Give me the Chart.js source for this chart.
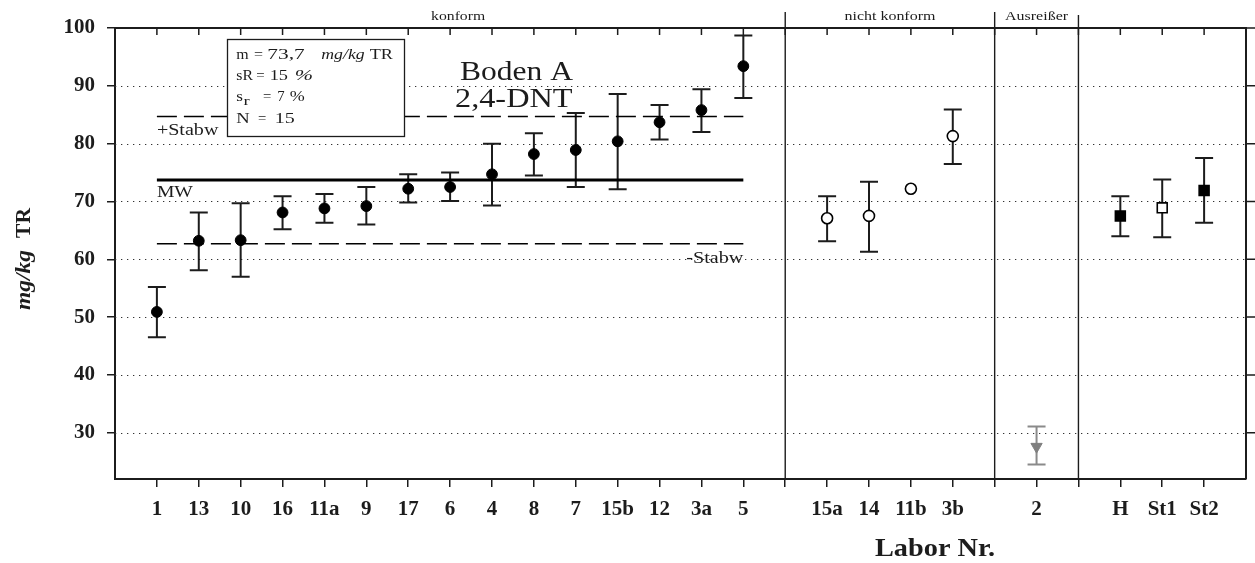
<!DOCTYPE html>
<html>
<head>
<meta charset="utf-8">
<script src="https://cdn.jsdelivr.net/npm/chart.js@4/dist/chart.umd.min.js"></script>
<style>
  html, body { margin: 0; padding: 0; background: #fff; }
  #wrap { width: 1255px; height: 563px; }
</style>
</head>
<body>
<div id="wrap"><canvas id="c" width="1255" height="563"></canvas></div>
<script>
// Konforme Labore: Mittelwert mit Minimum/Maximum der Einzelwerte
const konformLabs = ['1', '13', '10', '16', '11a', '9', '17', '6', '4', '8', '7', '15b', '12', '3a', '5'];
const konformWerte = [50.9, 63.2, 63.3, 68.1, 68.8, 69.2, 72.2, 72.5, 74.7, 78.2, 78.9, 80.4, 83.7, 85.8, 93.4];
const konformMin = [46.5, 58.1, 57.0, 65.2, 66.3, 66.0, 69.8, 70.1, 69.3, 74.5, 72.5, 72.1, 80.7, 82.0, 87.9];
const konformMax = [55.2, 68.1, 69.7, 70.9, 71.3, 72.5, 74.7, 75.0, 80.0, 81.8, 85.3, 88.6, 86.7, 89.4, 98.7];

// Nicht konforme Labore
const nichtLabs = ['15a', '14', '11b', '3b'];
const nichtWerte = [67.1, 67.5, 72.2, 81.3];
const nichtMin = [63.1, 61.3, null, 76.5];
const nichtMax = [70.9, 73.4, null, 85.9];

// Ausreißer
const ausLabs = ['2'];
const ausWerte = [27.6];
const ausMin = [24.5];
const ausMax = [31.1];

// Referenzwerte (Hersteller, Standards)
const refLabs = ['H', 'St1', 'St2'];
const refWerte = [67.5, 68.9, 71.9];
const refMin = [64.0, 63.8, 66.3];
const refMax = [70.9, 73.8, 77.5];

// Kenngrößen der konformen Labore
const mittelwert = 73.7;
const stabw = 11.0;
const kennText = { m: '73,7', sR: '15', sr: '7', N: '15' };

const yTicks = [30, 40, 50, 60, 70, 80, 90, 100];

const SERIF = '"Liberation Serif", "Times New Roman", serif';
const INK = '#1c1c1c';

// Gruppen nebeneinander anordnen, jeweils mit einer Trennposition dazwischen
const gruppen = [
  { name: 'konform', labs: konformLabs, werte: konformWerte, lo: konformMin, hi: konformMax },
  { name: 'nicht konform', labs: nichtLabs, werte: nichtWerte, lo: nichtMin, hi: nichtMax },
  { name: 'Ausreißer', labs: ausLabs, werte: ausWerte, lo: ausMin, hi: ausMax },
  { name: '', labs: refLabs, werte: refWerte, lo: refMin, hi: refMax }
];
const tickLabel = {};
const trenner = [];
let pos = 1;
gruppen.forEach((g, i) => {
  g.start = pos;
  g.xs = g.labs.map((l, k) => { tickLabel[pos + k] = l; return pos + k; });
  pos += g.labs.length;
  g.end = pos - 1;
  if (i < gruppen.length - 1) { trenner.push(pos); pos += 1; }
});
const xMax = pos;

function punkte(g) {
  return g.xs.map((x, k) => ({ x: x, y: g.werte[k] }));
}
const kon = gruppen[0];

const datasets = [
  {
    label: 'konform', data: punkte(gruppen[0]), errLo: gruppen[0].lo, errHi: gruppen[0].hi, errColor: INK,
    pointStyle: 'circle', pointRadius: 5.4, backgroundColor: '#000', borderColor: '#000', borderWidth: 1, order: 1
  },
  {
    label: 'nicht konform', data: punkte(gruppen[1]), errLo: gruppen[1].lo, errHi: gruppen[1].hi, errColor: INK,
    pointStyle: 'circle', pointRadius: 5.5, backgroundColor: '#fff', borderColor: '#000', borderWidth: 1.6, order: 1
  },
  {
    label: 'Ausreißer', data: punkte(gruppen[2]), errLo: gruppen[2].lo, errHi: gruppen[2].hi, errColor: '#8a8a8a',
    pointStyle: 'triangle', rotation: 180, pointRadius: 6.5, backgroundColor: '#7f7f7f', borderColor: '#7f7f7f', borderWidth: 1, order: 1
  },
  {
    label: 'Referenz', data: punkte(gruppen[3]), errLo: gruppen[3].lo, errHi: gruppen[3].hi, errColor: INK,
    pointStyle: 'rect', pointRadius: 7, backgroundColor: ['#000', '#fff', '#000'], borderColor: '#000', borderWidth: 1.6, order: 1
  },
  {
    type: 'line', label: 'MW', data: [{ x: kon.start, y: mittelwert }, { x: kon.end, y: mittelwert }],
    borderColor: '#000', borderWidth: 3, pointRadius: 0, fill: false, order: 2
  },
  {
    type: 'line', label: '+Stabw', data: [{ x: kon.start, y: mittelwert + stabw }, { x: kon.end, y: mittelwert + stabw }],
    borderColor: '#000', borderWidth: 1.5, borderDash: [20, 7], pointRadius: 0, fill: false, order: 2
  },
  {
    type: 'line', label: '-Stabw', data: [{ x: kon.start, y: mittelwert - stabw }, { x: kon.end, y: mittelwert - stabw }],
    borderColor: '#000', borderWidth: 1.5, borderDash: [20, 7], pointRadius: 0, fill: false, order: 2
  }
];

// Text zwischen zwei x-Grenzen setzen, dafür waagerecht gedehnt
function breitText(ctx, text, left, right, y, font) {
  ctx.font = font;
  ctx.textAlign = 'left';
  if (right == null) { ctx.fillText(text, left, y); return; }
  const w = ctx.measureText(text).width;
  ctx.save();
  ctx.translate(left, y);
  ctx.scale((right - left) / w, 1);
  ctx.fillText(text, 0, 0);
  ctx.restore();
}

// Gitter, Trennlinien und Fehlerbalken unter den Punkten
const unterlage = {
  id: 'unterlage',
  beforeDatasetsDraw(chart) {
    const { ctx, chartArea: a, scales: { x, y } } = chart;
    ctx.save();
    // gepunktete Gitterlinien
    ctx.strokeStyle = '#333';
    ctx.lineWidth = 1;
    ctx.setLineDash([1.3, 4.7]);
    yTicks.forEach(v => {
      if (v >= 100) return;
      const py = Math.round(y.getPixelForValue(v)) + 0.5;
      ctx.beginPath(); ctx.moveTo(a.left, py); ctx.lineTo(a.right, py); ctx.stroke();
    });
    ctx.setLineDash([]);
    // senkrechte Trennlinien zwischen den Gruppen
    ctx.strokeStyle = INK;
    ctx.lineWidth = 1.4;
    trenner.forEach((t, i) => {
      const px = x.getPixelForValue(t);
      ctx.beginPath(); ctx.moveTo(px, i === trenner.length - 1 ? 15 : 12); ctx.lineTo(px, a.bottom); ctx.stroke();
    });
    // Fehlerbalken (Min/Max)
    chart.data.datasets.forEach(ds => {
      if (!ds.errLo) return;
      ctx.strokeStyle = ds.errColor;
      ctx.lineWidth = 2;
      ds.data.forEach((p, k) => {
        const lo = ds.errLo[k], hi = ds.errHi[k];
        if (lo == null || hi == null) return;
        const px = x.getPixelForValue(p.x);
        const y1 = y.getPixelForValue(lo), y2 = y.getPixelForValue(hi);
        ctx.beginPath();
        ctx.moveTo(px, y1); ctx.lineTo(px, y2);
        ctx.moveTo(px - 9, y1); ctx.lineTo(px + 9, y1);
        ctx.moveTo(px - 9, y2); ctx.lineTo(px + 9, y2);
        ctx.stroke();
      });
    });
    ctx.restore();
  }
};

// Rahmen oben/rechts, Beschriftungen, Kennwertkasten, Achsentitel
const beschriftung = {
  id: 'beschriftung',
  afterDraw(chart) {
    const { ctx, chartArea: a, scales: { x, y } } = chart;
    ctx.save();
    ctx.strokeStyle = INK;
    ctx.lineWidth = 2;
    ctx.beginPath();
    ctx.moveTo(a.left, a.top); ctx.lineTo(a.right, a.top); ctx.lineTo(a.right, a.bottom);
    ctx.stroke();
    // Markierungen oben (nach innen) und rechts (nach außen)
    ctx.lineWidth = 1.5;
    ctx.beginPath();
    for (let i = 1; i < xMax; i++) {
      const px = x.getPixelForValue(i);
      ctx.moveTo(px, a.top); ctx.lineTo(px, a.top + 7);
    }
    yTicks.forEach(v => {
      const py = y.getPixelForValue(v);
      ctx.moveTo(a.right, py); ctx.lineTo(a.right + 9, py);
    });
    ctx.stroke();

    ctx.fillStyle = INK;
    ctx.textBaseline = 'alphabetic';
    // Gruppennamen über der Achse
    const gruppenBreite = { 'konform': 54, 'nicht konform': 91, 'Ausreißer': 63 };
    gruppen.forEach(g => {
      if (!g.name) return;
      const cx = x.getPixelForValue((g.start + g.end) / 2) + (g === kon ? 8 : 0);
      const w = gruppenBreite[g.name];
      breitText(ctx, g.name, cx - w / 2, cx + w / 2, 20, '13px ' + SERIF);
    });

    // Beschriftung der Mittelwert- und Streulinien
    const xl = x.getPixelForValue(kon.start), xr = x.getPixelForValue(kon.end);
    breitText(ctx, '+Stabw', xl, xl + 61.5, y.getPixelForValue(mittelwert + stabw) + 18.5, '16px ' + SERIF);
    breitText(ctx, 'MW', xl, xl + 36, y.getPixelForValue(mittelwert) + 16.5, '16px ' + SERIF);
    breitText(ctx, '-Stabw', xr - 57, xr, y.getPixelForValue(mittelwert - stabw) + 19, '16px ' + SERIF);

    // Probenbezeichnung
    breitText(ctx, 'Boden A', 460, 573, 79.5, '28px ' + SERIF);
    breitText(ctx, '2,4-DNT', 455, 572.5, 106.5, '28px ' + SERIF);

    // Kennwertkasten
    ctx.lineWidth = 1.3;
    ctx.fillStyle = '#fff';
    ctx.fillRect(227.5, 39.5, 177, 97);
    ctx.strokeRect(227.5, 39.5, 177, 97);
    ctx.fillStyle = INK;
    const f = '15px ' + SERIF, fi = 'italic 15px ' + SERIF;
    breitText(ctx, 'm', 236.3, 248.7, 58.5, f);
    breitText(ctx, '=', 254, 263, 58.5, f);
    breitText(ctx, kennText.m, 267.3, 304.7, 58.5, f);
    breitText(ctx, 'mg/kg', 321.3, 364.7, 58.5, fi);
    breitText(ctx, 'TR', 369.7, 393, 58.5, f);

    breitText(ctx, 'sR', 236.3, 253, 79.5, f);
    breitText(ctx, '=', 256.3, 264.7, 79.5, f);
    breitText(ctx, kennText.sR, 269.7, 288, 79.5, f);
    breitText(ctx, '%', 294.7, 313, 79.5, fi);

    breitText(ctx, 's', 236.3, 243, 100.5, f);
    breitText(ctx, 'r', 243.5, 249.7, 104.5, '12px ' + SERIF);
    breitText(ctx, '=', 263, 271.3, 100.5, f);
    breitText(ctx, kennText.sr, 277.3, 284.7, 100.5, f);
    breitText(ctx, '%', 289.7, 304.7, 100.5, f);

    breitText(ctx, 'N', 236.3, 249.7, 123, f);
    breitText(ctx, '=', 258, 266.3, 123, f);
    breitText(ctx, kennText.N, 274.7, 294.7, 123, f);

    // Achsentitel x
    breitText(ctx, 'Labor Nr.', 875, 995, 556, 'bold 26px ' + SERIF);

    // Achsentitel y (gedreht, Einheit kursiv)
    ctx.rotate(-Math.PI / 2);
    breitText(ctx, 'mg/kg', -310, -250, 30, 'italic bold 20px ' + SERIF);
    breitText(ctx, 'TR', -238, -208, 30, 'bold 20px ' + SERIF);
    ctx.restore();
  }
};

new Chart(document.getElementById('c'), {
  type: 'scatter',
  data: { datasets: datasets },
  options: {
    responsive: false,
    animation: false,
    events: [],
    layout: { padding: { left: 0, top: 28, right: 9, bottom: 0 } },
    plugins: { legend: { display: false }, tooltip: { enabled: false } },
    scales: {
      x: {
        type: 'linear', position: 'bottom', min: 0, max: xMax,
        afterBuildTicks(s) {
          const t = [];
          for (let i = 1; i < xMax; i++) t.push({ value: i });
          s.ticks = t;
        },
        afterFit(s) { s.height = 84; },
        ticks: {
          autoSkip: false, maxRotation: 0, minRotation: 0, padding: 10, color: INK,
          font: { family: SERIF, size: 21, weight: 'bold' },
          callback: v => tickLabel[v] || ''
        },
        grid: { drawOnChartArea: false, drawTicks: true, tickLength: 8, color: INK, lineWidth: 1.5 },
        border: { display: true, color: INK, width: 2 }
      },
      y: {
        type: 'linear', position: 'left', min: 22, max: 100,
        afterBuildTicks(s) { s.ticks = yTicks.map(v => ({ value: v })); },
        afterFit(s) { s.width = 115; },
        ticks: {
          padding: 12, color: INK,
          font: { family: SERIF, size: 21, weight: 'bold' }
        },
        grid: { drawOnChartArea: false, drawTicks: true, tickLength: 8, color: INK, lineWidth: 1.5 },
        border: { display: true, color: INK, width: 2 }
      }
    }
  },
  plugins: [unterlage, beschriftung]
});
</script>
</body>
</html>
